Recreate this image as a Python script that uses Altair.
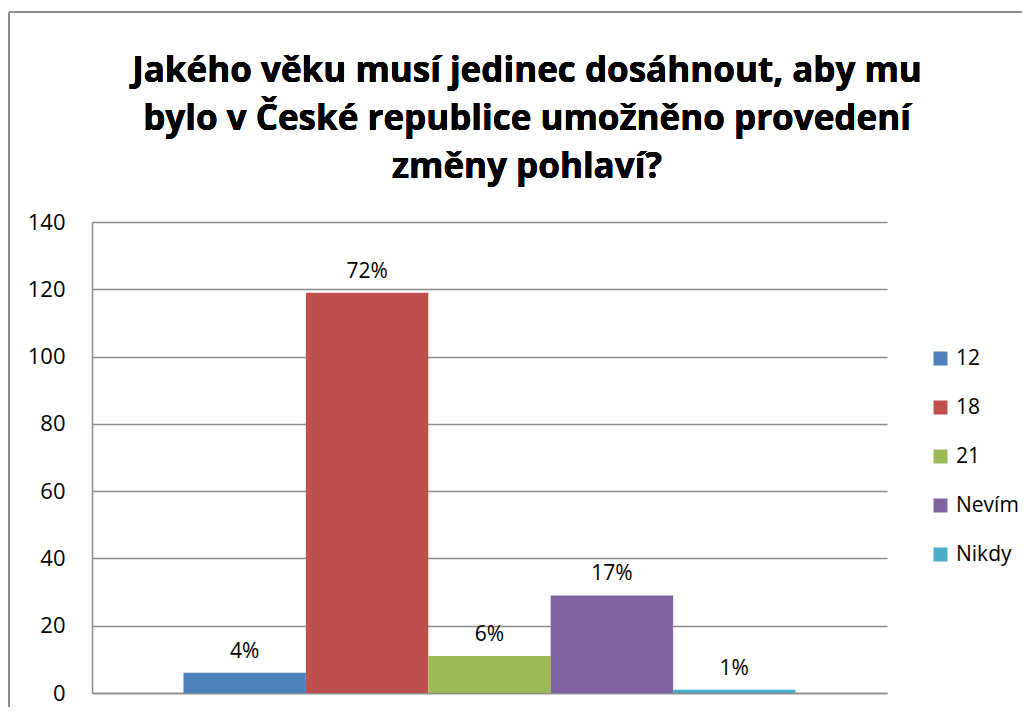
import altair as alt
import pandas as pd

series = ["12", "18", "21", "Nevím", "Nikdy"]
values = [6, 119, 11, 29, 1]
labels = ["4%", "72%", "6%", "17%", "1%"]
colors = ["#4F81BD", "#C0504D", "#9BBB59", "#8064A2", "#4BACC6"]
title_text = ("Jakého věku musí jedinec dosáhnout, aby mu\n"
              "bylo v České republice umožněno provedení\n"
              "změny pohlaví?")

df = pd.DataFrame({"cat": [""] * 5, "series": series, "value": values, "label": labels})

FONT = "Open Sans"

x = alt.X("cat:N", axis=alt.Axis(labels=False, ticks=False, title=None, grid=False,
                                 domainColor="#8c8c8c", domainWidth=1.5),
          scale=alt.Scale(paddingInner=0, paddingOuter=0.1495))
xo = alt.XOffset("series:N", sort=series, scale=alt.Scale(paddingInner=0, paddingOuter=0))
y = alt.Y("value:Q", scale=alt.Scale(domain=[0, 140]),
          axis=alt.Axis(values=list(range(0, 141, 20)), title=None, tickSize=0, labelPadding=27,
                        labelFontSize=22, labelFont=FONT, labelColor="#000000",
                        domainColor="#8c8c8c", domainWidth=1.5, gridColor="#8c8c8c", gridWidth=1.3))

bars = alt.Chart(df).mark_bar().encode(
    x=x, xOffset=xo, y=y,
    color=alt.Color("series:N", sort=series, scale=alt.Scale(domain=series, range=colors),
                    legend=alt.Legend(title=None, orient="none", legendX=838, legendY=126,
                                      symbolType="square", symbolSize=196, symbolStrokeWidth=0,
                                      labelFontSize=21, labelFont=FONT, labelColor="#000000",
                                      rowPadding=27, padding=0, labelOffset=5)),
)

text = alt.Chart(df).mark_text(baseline="bottom", dy=-11, fontSize=21, font=FONT, color="#000000").encode(
    x=x, xOffset=xo, y=y, text="label:N"
)

title = alt.Chart(df).mark_text(text=title_text, lineBreak="\n", lineHeight=48, fontSize=35, font=FONT,
                                fontWeight="bold", color="#000000", align="center", baseline="middle",
                                clip=False).encode(
    x=alt.value(435), y=alt.value(-151)
)

border_left = alt.Chart(df).mark_rule(color="#8c8c8c", strokeWidth=1.5, clip=False).encode(
    x=alt.value(-83), y=alt.value(-210), y2=alt.value(520)
)
border_top = alt.Chart(df).mark_rule(color="#8c8c8c", strokeWidth=1.5, clip=False).encode(
    x=alt.value(-83), x2=alt.value(960), y=alt.value(-210)
)

chart = alt.layer(bars, text, title, border_left, border_top).properties(
    width=795, height=471,
    background="#ffffff",
    view=alt.ViewBackground(stroke="transparent", strokeWidth=0),
    autosize=alt.AutoSizeParams(type="none"),
    padding={"left": 84, "top": 214, "right": 135, "bottom": 14},
).configure_view(stroke="transparent", strokeWidth=0)

chart.save("out.html", embed_options={"renderer": "svg", "actions": False})
